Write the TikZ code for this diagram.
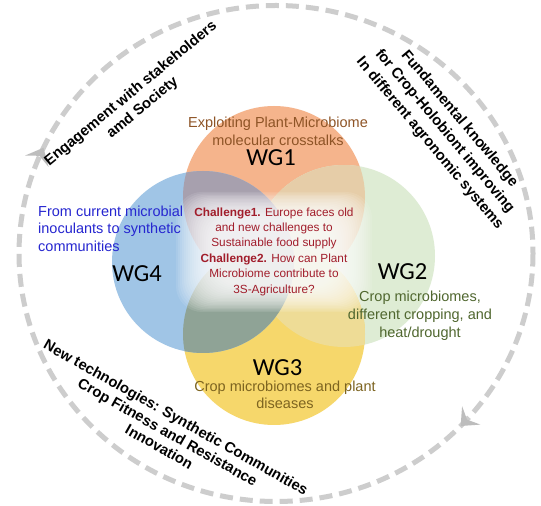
\documentclass[tikz,border=0pt]{standalone}
\usepackage{fontspec}
\setmainfont{Liberation Sans}
\newfontfamily\wgfont{Carlito}
\usetikzlibrary{decorations.markings,arrows.meta}
\definecolor{cOrange}{HTML}{F5B48C}
\definecolor{cGreen}{HTML}{DEECD4}
\definecolor{cYellow}{HTML}{F6D76B}
\definecolor{cBlue}{HTML}{A0C5E6}
\definecolor{lensOG}{HTML}{E6CDA8}
\definecolor{lensGY}{HTML}{EEDC96}
\definecolor{lensOB}{HTML}{A7A0AE}
\definecolor{lensBY}{HTML}{8FA396}
\definecolor{cRing}{HTML}{CDCDCD}
\definecolor{cArrow}{HTML}{BDBDBD}
\definecolor{tBrown}{HTML}{8E5426}
\definecolor{tGreen}{HTML}{50672F}
\definecolor{tOlive}{HTML}{7D6420}
\definecolor{tBlue}{HTML}{2626D0}
\definecolor{tRed}{HTML}{A11D2B}
\begin{document}
\begin{tikzpicture}[x=1pt,y=1pt,
  disc/.style={circle,minimum size=182pt,inner sep=0pt,draw=none},
  wglabel/.style={inner sep=0pt,font=\wgfont\fontsize{24.5}{28}\selectfont,text=black},
  bodytext/.style={inner sep=0pt,font=\fontsize{14.5}{17.5}\selectfont},
  ringtext/.style={inner sep=0pt,align=center,text=black,font=\fontsize{14.8}{18.5}\selectfont\bfseries},
  ringtip/.tip={Stealth[length=15pt,width=26pt,inset=6pt,line width=0pt,color=cArrow,fill=cArrow]},
  outerring/.style={draw=cRing,line width=5pt,dash pattern=on 13pt off 7pt}]
\useasboundingbox (0,0) rectangle (541,506);
\fill[white] (0,0) rectangle (541,506);
% working-group circles
\node[disc,fill=cOrange] (c1) at (274,309) {};
\node[disc,fill=cGreen]  (c2) at (344,250) {};
\node[disc,fill=cYellow] (c3) at (274,172) {};
\node[disc,fill=cBlue]   (c4) at (203,244) {};
% overlaps
\begin{scope}\clip (c1.center) circle[radius=91]; \fill[lensOG] (c2.center) circle[radius=91];\end{scope}
\begin{scope}\clip (c2.center) circle[radius=91]; \fill[lensGY] (c3.center) circle[radius=91];\end{scope}
\begin{scope}\clip (c1.center) circle[radius=91]; \fill[lensOB] (c4.center) circle[radius=91];\end{scope}
\begin{scope}\clip (c3.center) circle[radius=91]; \fill[lensBY] (c4.center) circle[radius=91];\end{scope}
% central glow
\foreach \i in {0,...,19}{\fill[white,opacity=0.1,rounded corners=26pt]
  ({274-(98-2*\i)},{254-(60-1.4*\i)}) rectangle ({274+(98-2*\i)},{254+(60-1.4*\i)});}
% labels
\node[wglabel] (wg1) at (271,348) {WG1};
\node[wglabel] (wg2) at (402.5,234) {WG2};
\node[wglabel] (wg3) at (277.5,138.5) {WG3};
\node[wglabel] (wg4) at (137,232) {WG4};
\node[bodytext,text=tBrown,align=center] (t1) at (278,374.5) {Exploiting Plant-Microbiome\\molecular crosstalks};
\node[bodytext,text=tGreen,align=center,font=\fontsize{14.5}{18}\selectfont] (t2) at (420,190) {Crop microbiomes,\\different cropping, and\\heat/drought};
\node[bodytext,text=tOlive,align=center,font=\fontsize{14.5}{16.5}\selectfont] (t3) at (285,111) {Crop microbiomes and plant\\diseases};
\node[bodytext,text=tBlue,align=left,anchor=west] (t4) at (38,277.5) {From current microbial\\inoculants to synthetic\\communities};
\node[inner sep=0pt,text=tRed,align=center,font=\fontsize{11.8}{15.4}\selectfont] (ch) at (274,254.5)
  {\textbf{Challenge1.} Europe faces old\\and new challenges to\\Sustainable food supply\\\textbf{Challenge2.} How can Plant\\Microbiome contribute to\\3S-Agriculture?};
% outer dashed cycle with arrowheads
\draw[outerring,postaction={decorate,decoration={markings,
    mark=at position 0.121 with {\arrow{ringtip}},
    mark=at position 0.569 with {\arrow{ringtip}}}}]
  (533,252.5) arc[start angle=0,end angle=-360,x radius=257,y radius=248];
% texts along the cycle
\node[ringtext,rotate=39.5] (eng) at (136.8,405) {Engagement with stakeholders\\amd Society};
\node[ringtext,rotate=-50,font=\fontsize{14.8}{19.3}\selectfont\bfseries] (fun) at (444.5,374.75) {Fundamental knowledge\\for Crop-Holobiont improving\\In different agronomic systems};
\node[ringtext,rotate=-29.5,font=\fontsize{14.8}{17}\selectfont\bfseries] (newt) at (167.75,74) {New technologies: Synthetic Communities\\Crop Fitness and Resistance\\Innovation};
\end{tikzpicture}
\end{document}
